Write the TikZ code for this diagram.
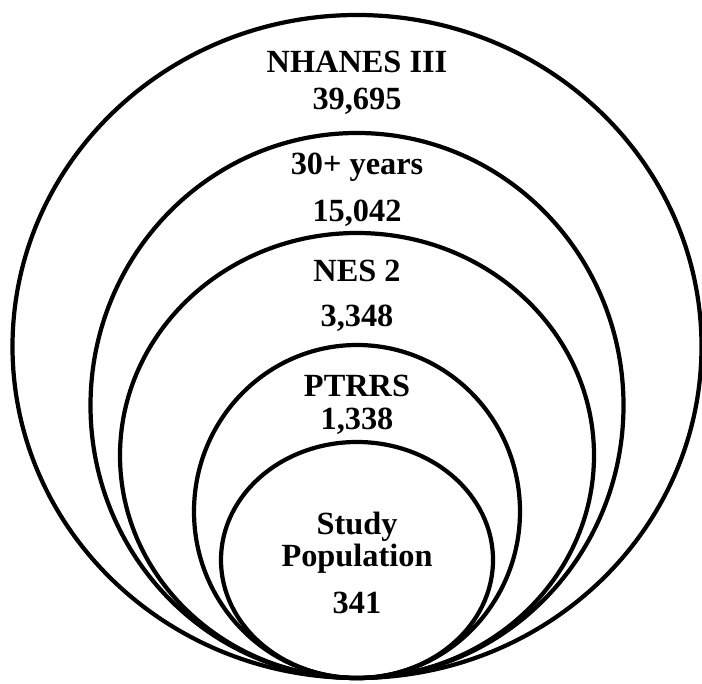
\documentclass[tikz,border=0pt]{standalone}
\usepackage{fontspec}
\setmainfont{Liberation Serif}
\usetikzlibrary{positioning}

\tikzset{
  ring/.style={line width=3pt},
  lbl/.style={anchor=base, font=\fontsize{23}{26}\selectfont\bfseries, inner sep=0pt}
}

\begin{document}
\begin{tikzpicture}[x=0.025cm, y=0.025cm]
\useasboundingbox (0,0) rectangle (702,683);
% nested rings, all touching at the bottom
\foreach \cy/\rx/\ry in {336.5/344.5/331.5, 277.5/266.5/272.5, 227.5/237/222.5, 171.5/163/166.5, 123/136/118} {
  \draw[ring] (357,\cy) ellipse ({\rx} and {\ry});
}
% labels
\node[lbl] (nhanes) at (357,610) {NHANES III};
\node[lbl] (nhanesN) at (357,573) {39,695};
\node[lbl] (age) at (357,508) {30+ years};
\node[lbl] (ageN) at (357,461) {15,042};
\node[lbl] (nes) at (357,401) {NES 2};
\node[lbl] (nesN) at (357,356) {3,348};
\node[lbl] (ptrrs) at (357,286) {PTRRS};
\node[lbl] (ptrrsN) at (357,253) {1,338};
\node[lbl] (study) at (357,148) {Study};
\node[lbl] (pop) at (357,116) {Population};
\node[lbl] (popN) at (357,70) {341};
\end{tikzpicture}
\end{document}
